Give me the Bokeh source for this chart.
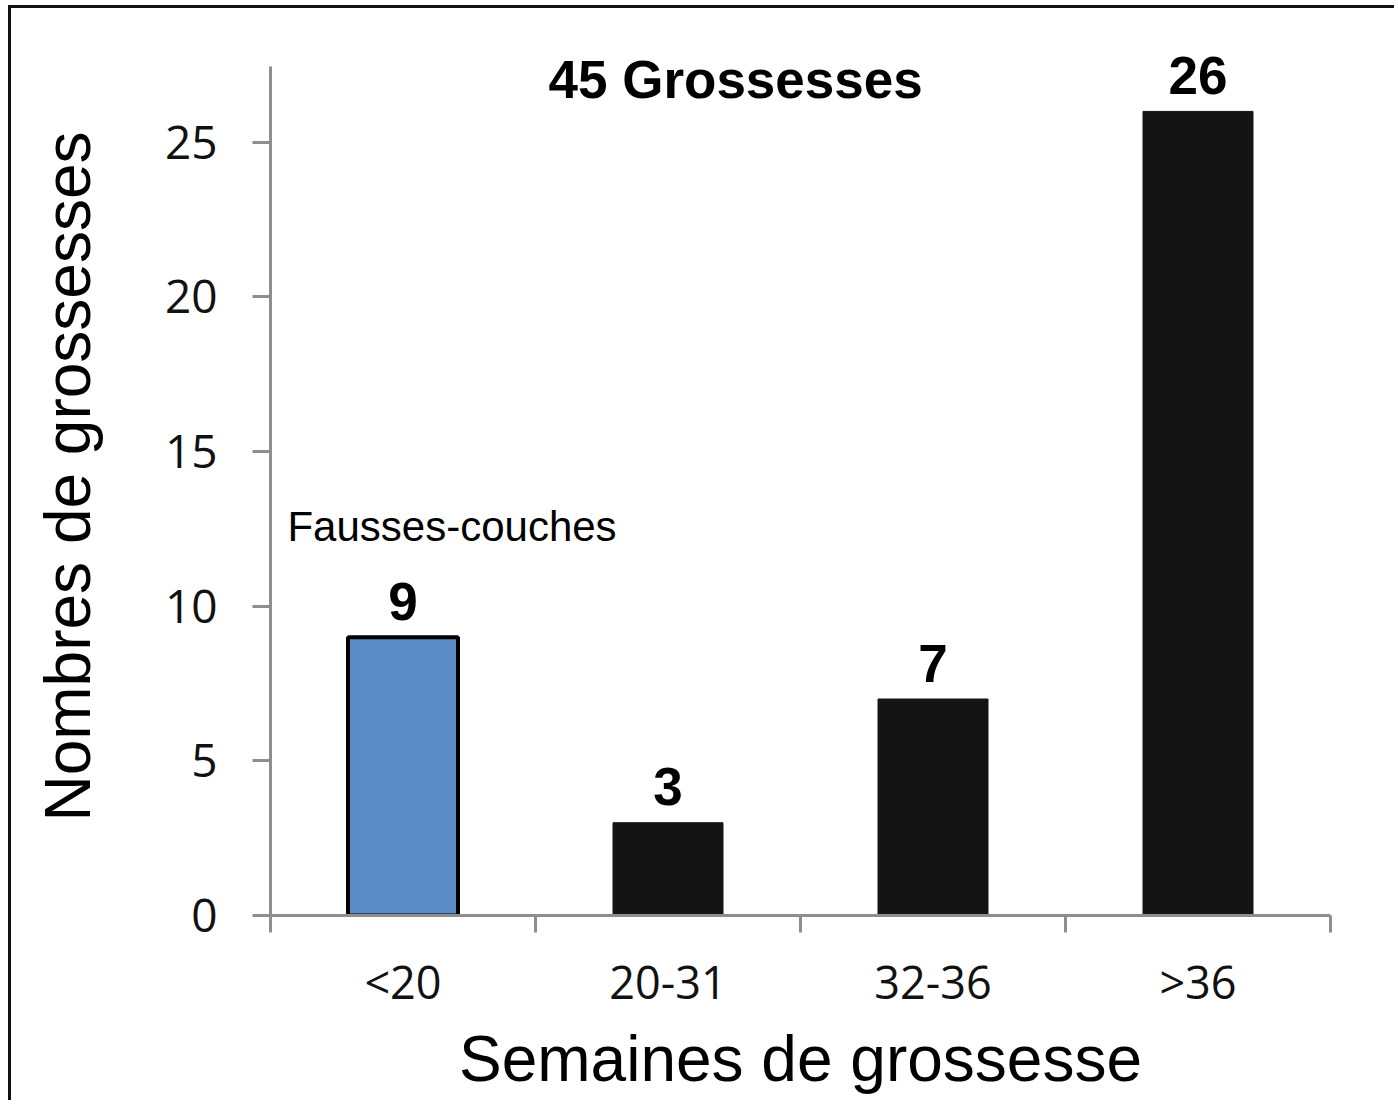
from bokeh.plotting import figure
from bokeh.models import FactorRange, Range1d, LinearAxis, FixedTicker, Label, ColumnDataSource
from bokeh.embed import file_html
from bokeh.resources import INLINE

# Pregnancy outcomes by gestational age (weeks)
categories = ["<20", "20-31", "32-36", ">36"]
counts = [9, 3, 7, 26]
bar_fill = ["#5b8bc6", "#141414", "#141414", "#141414"]
bar_edge = ["#000000", "#141414", "#141414", "#141414"]
bar_edge_width = [4, 1, 1, 1]
y_ticks = [0, 5, 10, 15, 20, 25]
chart_title = "45 Grossesses"
note_text = "Fausses-couches"
x_title = "Semaines de grossesse"
y_title = "Nombres de grossesses"

AXIS_GREY = "#8e8e8e"
TICK_FONT = "Open Sans"
TEXT_FONT = "Liberation Sans"

source = ColumnDataSource(dict(
    cat=categories,
    n=counts,
    label=[str(v) for v in counts],
    fill=bar_fill,
    edge=bar_edge,
    ew=bar_edge_width,
))

# the plotting area reaches a little above the axis line so the heading
# and the tallest value label are not cut off
p = figure(
    x_range=FactorRange(*categories),
    y_range=Range1d(0, 28.39),
    width=1386, height=1095,
    output_backend="svg",
    toolbar_location=None,
    x_axis_location=None,
    min_border_left=259, min_border_right=67,
    min_border_top=29, min_border_bottom=188,
    styles={
        "margin-left": "8px", "margin-top": "5px",
        "border-left": "3px solid #111111", "border-top": "3px solid #111111",
    },
)
p.outline_line_color = None
p.xgrid.visible = False
p.ygrid.visible = False
p.background_fill_color = "white"
p.border_fill_color = "white"

# bars
p.vbar(x="cat", top="n", width=0.415, source=source,
       fill_color="fill", line_color="edge", line_width="ew")

# value labels above bars
p.text(x="cat", y="n", text="label", source=source,
       text_align="center", text_baseline="middle", y_offset=-36,
       text_font_size="53px", text_font_style="bold", text_color="black",
       text_font={"value": TEXT_FONT})

# y axis
yax = p.yaxis[0]
yax.ticker = FixedTicker(ticks=y_ticks)
yax.bounds = (0, 27.45)
yax.axis_line_color = AXIS_GREY
yax.axis_line_width = 3
yax.major_tick_line_color = AXIS_GREY
yax.major_tick_line_width = 3
yax.major_tick_out = 18
yax.major_tick_in = 0
yax.minor_tick_line_color = None
yax.major_label_text_font = TICK_FONT
yax.major_label_text_font_size = "46px"
yax.major_label_text_color = "#111111"
yax.major_label_standoff = 35
yax.axis_label = y_title
yax.axis_label_text_font = TEXT_FONT
yax.axis_label_text_font_size = "64px"
yax.axis_label_text_font_style = "normal"
yax.axis_label_text_color = "black"
yax.axis_label_standoff = 58

# x axis: labels centred on each category, tick marks on the category boundaries
centers = [i + 0.5 for i in range(len(categories))]
bounds = list(range(len(categories) + 1))
xax = LinearAxis(
    ticker=FixedTicker(ticks=centers, minor_ticks=bounds),
    major_label_overrides={c: name for c, name in zip(centers, categories)},
)
xax.axis_line_color = AXIS_GREY
xax.axis_line_width = 3
xax.major_tick_line_color = None
xax.major_tick_out = 0
xax.major_tick_in = 0
xax.minor_tick_line_color = AXIS_GREY
xax.minor_tick_line_width = 3
xax.minor_tick_out = 17
xax.minor_tick_in = 0
xax.major_label_text_font = TICK_FONT
xax.major_label_text_font_size = "45px"
xax.major_label_text_color = "#111111"
xax.major_label_standoff = 18
xax.axis_label = x_title
xax.axis_label_text_font = TEXT_FONT
xax.axis_label_text_font_size = "64px"
xax.axis_label_text_font_style = "normal"
xax.axis_label_text_color = "black"
xax.axis_label_standoff = 8
p.add_layout(xax, "below")

# chart heading and annotation
p.add_layout(Label(x=1.049, y=27.03, text=chart_title, text_align="left",
                   text_baseline="middle", text_font=TEXT_FONT,
                   text_font_size="53px", text_font_style="bold", text_color="black"))
p.add_layout(Label(x=0.064, y=12.58, text=note_text, text_align="left",
                   text_baseline="middle", text_font=TEXT_FONT,
                   text_font_size="42px", text_color="black"))

open("out.html", "w").write(file_html(p, INLINE))
